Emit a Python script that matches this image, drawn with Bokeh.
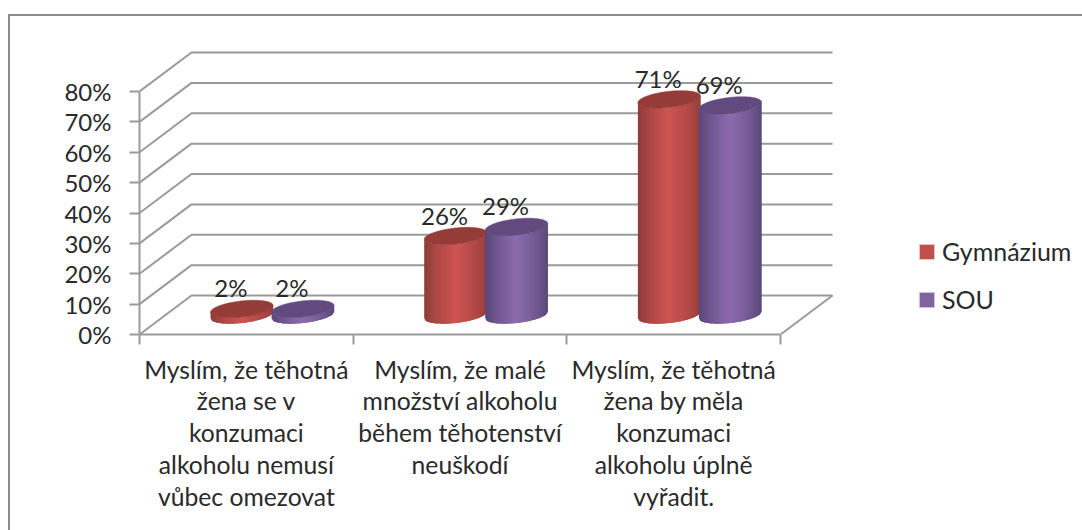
import numpy as np
from bokeh.embed import file_html
from bokeh.resources import INLINE
from bokeh.plotting import figure
from bokeh.models import (FixedTicker, InlineStyleSheet, Legend, LegendItem, LinearAxis, Range1d)

categories = [
    "Myslím, že těhotná\nžena se v\nkonzumaci\nalkoholu nemusí\nvůbec omezovat",
    "Myslím, že malé\nmnožství alkoholu\nběhem těhotenství\nneuškodí",
    "Myslím, že těhotná\nžena by měla\nkonzumaci\nalkoholu úplně\nvyřadit.",
]
series_names = ["Gymnázium", "SOU"]
gymnazium = [2, 26, 71]
sou = [2, 29, 69]
y_ticks = [0, 10, 20, 30, 40, 50, 60, 70, 80]
y_labels = ["0%", "10%", "20%", "30%", "40%", "50%", "60%", "70%", "80%"]

GRID = "#9a9a9a"
INK = "#2a2a2a"
FONT = "Lato"
W, H = 1082, 530
LEFT, BASE = 139, 334            # frame origin inside the figure
SX, SY = 213.67, 243 / 80        # px per category, px per percent
DX, DY = 52 / SX, 39 / SY        # depth of the 3-D box
OFF, A, B, TILT = 30.5 / SX, 31.5, 8, np.radians(6.5)

p = figure(width=W, height=H, output_backend="svg", toolbar_location=None,
           x_range=Range1d(0, (W - LEFT) / SX), y_range=Range1d(0, BASE / SY),
           min_border_left=LEFT, min_border_right=0, min_border_top=0,
           min_border_bottom=H - BASE, x_axis_type=None, y_axis_type=None)
p.grid.visible = False
p.outline_line_color = None

# chart border: only its left and top sides fall inside the picture
p.stylesheets = [InlineStyleSheet(css="""
:host { position: relative; }
:host::after {
  content: ""; position: absolute; left: 8px; top: 14px; right: 0; bottom: 0;
  border-left: 2px solid #8c8c8c; border-top: 2px solid #8c8c8c;
  pointer-events: none;
}
""")]

# axes
yaxis = LinearAxis(ticker=FixedTicker(ticks=y_ticks), bounds=(0, 80),
                   major_label_overrides=dict(zip(y_ticks, y_labels)),
                   major_label_standoff=18, major_label_text_font=FONT,
                   major_label_text_font_size="24px", major_label_text_color=INK,
                   axis_line_color=GRID, axis_line_width=2,
                   major_tick_line_color=GRID, major_tick_line_width=2,
                   major_tick_out=10, major_tick_in=0, minor_tick_line_color=None)
p.add_layout(yaxis, "left")

centres = [i + 0.5 for i in range(len(categories))]
xaxis = LinearAxis(ticker=FixedTicker(ticks=centres, minor_ticks=list(range(len(categories) + 1))),
                   bounds=(0, len(categories)),
                   major_label_overrides=dict(zip(centres, categories)),
                   major_label_standoff=10, major_label_text_font=FONT,
                   major_label_text_font_size="24.7px", major_label_text_color=INK,
                   major_label_text_line_height=1.1,
                   axis_line_color=GRID, axis_line_width=2,
                   major_tick_line_color=None, major_tick_out=0, major_tick_in=0,
                   minor_tick_line_color=GRID, minor_tick_line_width=2,
                   minor_tick_out=10, minor_tick_in=0)
p.add_layout(xaxis, "below")

# walls
n = len(categories)
for t in y_ticks:
    p.line([0, DX, n + DX], [t, t + DY, t + DY], line_color=GRID, line_width=2)
p.line([n, n + DX], [0, DY], line_color=GRID, line_width=2)

t_ = np.linspace(0, 2 * np.pi, 121)
ell_x = A * np.cos(t_) * np.cos(TILT) - B * np.sin(t_) * np.sin(TILT)
ell_y = A * np.cos(t_) * np.sin(TILT) + B * np.sin(t_) * np.cos(TILT)
i0, i1 = int(np.argmin(ell_x)), int(np.argmax(ell_x))
idx = np.arange(i0, i1 + 121 if i1 < i0 else i1 + 1) % 121
arc_x = np.linspace(ell_x.min(), ell_x.max(), 43)
arc_y = np.interp(arc_x, ell_x[idx], ell_y[idx])


def mix(c0, c1, f):
    return tuple(c0[k] + (c1[k] - c0[k]) * f for k in range(3))


def shade(stops, s):
    if s < 0.48:
        c = mix(stops[0], stops[1], (s / 0.48) ** 0.8)
    else:
        c = mix(stops[1], stops[2], ((s - 0.48) / 0.52) ** 1.4)
    return "#%02x%02x%02x" % tuple(int(round(v)) for v in c)


styles = [
    dict(sign=-1, values=gymnazium, top="#953c39", stops=((140, 58, 56), (204, 84, 81), (150, 62, 60))),
    dict(sign=1, values=sou, top="#624a7e", stops=((88, 68, 118), (138, 106, 172), (92, 72, 122))),
]
legend_items = []
for name, st, swatch in zip(series_names, styles, ["#c0504d", "#8064a2"]):
    strips_x, strips_y, fills = [], [], []
    top_x, top_y, lab_x, lab_y = [], [], [], []
    for i, v in enumerate(st["values"]):
        cx = i + 0.5 + DX / 2 + st["sign"] * OFF
        cy0 = DY / 2
        cy1 = cy0 + v
        m = len(arc_x) - 1
        for k in range(m):
            # every strip overlaps its neighbour, later strips paint over it
            e = min(k + 2, m)
            ax = arc_x[k:e + 1] / SX
            ay = arc_y[k:e + 1] / SY
            strips_x.append(list(cx + ax) + list(cx + ax[::-1]))
            strips_y.append(list(cy0 + ay) + list(cy1 + ay[::-1]))
            fills.append(shade(st["stops"], (k + 0.5) / m))
        top_x.append(list(cx + ell_x / SX))
        top_y.append(list(cy1 + ell_y / SY))
        lab_x.append(cx)
        lab_y.append(cy1)
    p.patches(strips_x, strips_y, fill_color=fills, line_color=None)
    p.patches(top_x, top_y, fill_color=st["top"], line_color=st["top"], line_width=0.5)
    p.text(lab_x, lab_y, text=[f"{v}%" for v in st["values"]], x_offset=-11, y_offset=-21,
           text_align="center", text_baseline="middle", text_color=INK,
           text_font={"value": FONT}, text_font_size="24px")
    swatch_r = p.quad(left=[np.nan], right=[np.nan], top=[np.nan], bottom=[np.nan],
                      fill_color=swatch, line_color="#e8c8c8" if st["sign"] < 0 else "#d0c4e0")
    legend_items.append(LegendItem(label=name, renderers=[swatch_r]))

legend = Legend(items=legend_items, location=(778, 20), padding=0, margin=0,
                border_line_color=None, background_fill_color=None,
                glyph_width=19, glyph_height=19, label_standoff=6, spacing=18,
                label_text_font=FONT, label_text_font_size="25px",
                label_text_color=INK, label_height=23)
p.add_layout(legend, "center")

open("out.html", "w").write(file_html(p, INLINE))
